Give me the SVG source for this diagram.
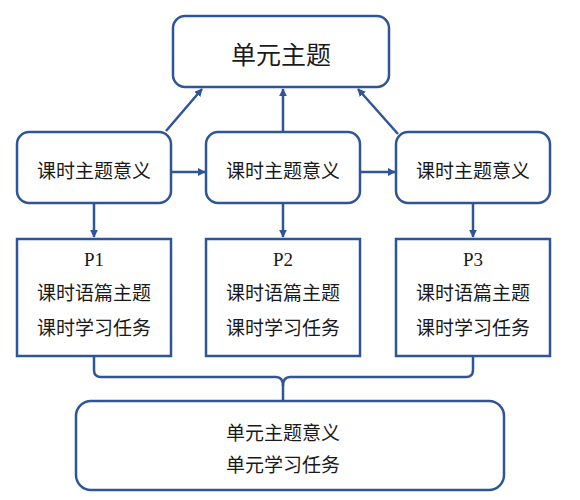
<svg xmlns="http://www.w3.org/2000/svg" width="580" height="500" viewBox="0 0 580 500">
<style>
.box{fill:#ffffff;stroke:#2E5597;stroke-width:2.5}
.ln{fill:none;stroke:#2E5597;stroke-width:2.5}
.t{font-family:"Liberation Serif","Noto Sans CJK SC",serif;fill:#1a1a1a;text-anchor:middle}
.s19{font-size:19px}
.s25{font-size:25px}
</style>
<defs>
<marker id="ah" viewBox="0 0 10 10" refX="9" refY="5" markerWidth="8" markerHeight="8" markerUnits="userSpaceOnUse" orient="auto">
<path d="M0,0 L10,5 L0,10 Z" fill="#2E5597"/>
</marker>
</defs>
<rect width="580" height="500" fill="#ffffff"/>
<g id="connectors">
<line class="ln" x1="166" y1="131" x2="202" y2="89" marker-end="url(#ah)"/>
<line class="ln" x1="283" y1="132" x2="283" y2="89" marker-end="url(#ah)"/>
<line class="ln" x1="398" y1="134" x2="358" y2="89" marker-end="url(#ah)"/>
<line class="ln" x1="171" y1="172" x2="205" y2="172" marker-end="url(#ah)"/>
<line class="ln" x1="360" y1="172" x2="395" y2="172" marker-end="url(#ah)"/>
<line class="ln" x1="94" y1="203" x2="94" y2="237" marker-end="url(#ah)"/>
<line class="ln" x1="283" y1="203" x2="283" y2="237" marker-end="url(#ah)"/>
<line class="ln" x1="473" y1="203" x2="473" y2="237" marker-end="url(#ah)"/>
<path class="ln" d="M94,356 L94,370 Q94,377 101,377 L276,377 Q283,377 283,386 L283,401"/>
<path class="ln" d="M473,356 L473,370 Q473,377 466,377 L290,377 Q283,377 283,386"/>
</g>
<g id="node-top">
<rect class="box" x="173" y="16" width="216" height="71" rx="12"/>
<text class="t s25" x="281" y="64">单元主题</text>
</g>
<g id="node-m1">
<rect class="box" x="17" y="132" width="154" height="71" rx="12"/>
<text class="t s19" x="94" y="178">课时主题意义</text>
</g>
<g id="node-m2">
<rect class="box" x="206" y="132" width="154" height="71" rx="12"/>
<text class="t s19" x="283" y="178">课时主题意义</text>
</g>
<g id="node-m3">
<rect class="box" x="396" y="132" width="154" height="71" rx="12"/>
<text class="t s19" x="473" y="178">课时主题意义</text>
</g>
<g id="node-p1">
<rect class="box" x="17" y="239" width="154" height="117"/>
<text class="t s19" x="94" y="266">P1</text>
<text class="t s19" x="94" y="300">课时语篇主题</text>
<text class="t s19" x="94" y="335">课时学习任务</text>
</g>
<g id="node-p2">
<rect class="box" x="206" y="239" width="154" height="117"/>
<text class="t s19" x="283" y="266">P2</text>
<text class="t s19" x="283" y="300">课时语篇主题</text>
<text class="t s19" x="283" y="335">课时学习任务</text>
</g>
<g id="node-p3">
<rect class="box" x="396" y="239" width="154" height="117"/>
<text class="t s19" x="473" y="266">P3</text>
<text class="t s19" x="473" y="300">课时语篇主题</text>
<text class="t s19" x="473" y="335">课时学习任务</text>
</g>
<g id="node-bottom">
<rect class="box" x="76" y="401" width="428" height="89" rx="15"/>
<text class="t s19" x="283" y="440">单元主题意义</text>
<text class="t s19" x="283" y="472">单元学习任务</text>
</g>
</svg>
